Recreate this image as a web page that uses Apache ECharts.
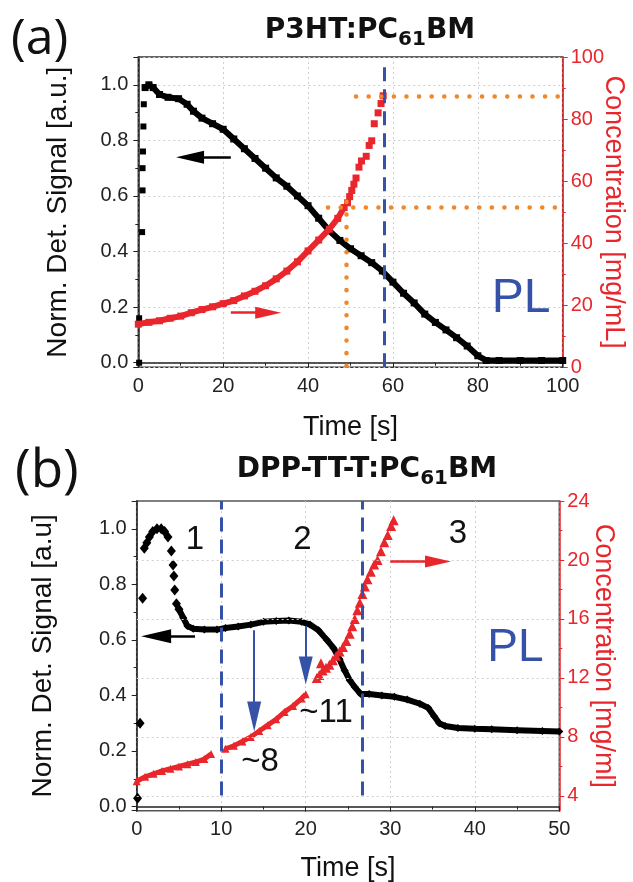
<!DOCTYPE html>
<html><head><meta charset="utf-8">
<script src="https://cdn.jsdelivr.net/npm/echarts@6/dist/echarts.min.js"></script>
<style>html,body{margin:0;padding:0;background:#fff}#c{width:633px;height:882px}</style>
</head><body><div id="c"></div>
<script>
// ===== Panel (a): P3HT:PC61BM =====
const aEarlyTime   = [0.2, 0.2, 0.9, 1.0, 1.0, 1.1, 1.2, 1.3];
const aEarlySignal = [0.0, 0.16, 0.47, 0.62, 0.70, 0.76, 0.85, 0.93];
const aTime   = [1.6, 2.5, 3.5, 5, 7, 9.5, 11.5, 13, 15, 17.5, 20, 22.5, 25, 27.5, 30, 32.5, 35, 37.5, 40, 42.5, 45, 47.5, 50, 52.5, 55, 57.5, 60, 62.5, 65, 67.5, 70, 72.5, 75, 77.5, 80, 82, 85, 90, 95, 100];
const aSignal = [0.99, 1.0, 0.99, 0.965, 0.955, 0.95, 0.93, 0.905, 0.88, 0.86, 0.84, 0.805, 0.77, 0.735, 0.70, 0.665, 0.635, 0.60, 0.565, 0.52, 0.475, 0.44, 0.41, 0.385, 0.36, 0.33, 0.29, 0.25, 0.215, 0.175, 0.145, 0.118, 0.09, 0.06, 0.025, 0.008, 0.008, 0.008, 0.008, 0.008];
const aConcTime = [0, 2.5, 5, 7.5, 10, 12.5, 15, 17.5, 20, 22.5, 25, 27.5, 30, 32.5, 35, 37.5, 40, 42.5, 45, 47, 48.5];
const aConc     = [13.9, 14.5, 15.0, 15.8, 16.5, 17.6, 18.6, 19.5, 20.5, 21.5, 23.0, 24.5, 26.3, 28.5, 31.0, 34.0, 37.5, 41.0, 44.5, 48.0, 51.5];
const aSteepTime = [49.3, 49.8, 50.3, 50.8, 51.3, 52.0, 52.6, 53.7, 54.4, 55.0, 55.6, 56.5, 57.2, 57.7];
const aSteepConc = [53, 55, 57, 59, 61, 64.5, 66.5, 68, 71.5, 73, 78.5, 82, 85, 87.5];

// ===== Panel (b): DPP-TT-T:PC61BM =====
const bEarlyTime   = [0.1, 0.4, 0.7, 0.9, 1.2, 1.5, 1.9, 2.4, 2.9, 3.3, 3.7, 4.1, 4.3, 4.4, 4.5, 4.7, 5.0];
const bEarlySignal = [0.03, 0.30, 0.75, 0.93, 0.95, 0.97, 0.99, 1.0, 1.0, 0.99, 0.97, 0.92, 0.87, 0.83, 0.78, 0.73, 0.71];
const bTime   = [5.0, 5.5, 6.0, 6.7, 8, 9.5, 10.5, 12, 13.5, 15, 16.5, 18, 19.5, 20.5, 21.5, 22.5, 23.3, 24, 24.6, 25.2, 25.8, 26.5, 27.5, 29, 30.5, 32, 33.5, 34.5, 35.2, 35.8, 36.5, 38, 40, 42, 45, 48, 50];
const bSignal = [0.71, 0.68, 0.65, 0.64, 0.637, 0.637, 0.643, 0.648, 0.655, 0.665, 0.668, 0.67, 0.665, 0.655, 0.635, 0.60, 0.57, 0.53, 0.49, 0.455, 0.43, 0.405, 0.405, 0.40, 0.395, 0.385, 0.37, 0.355, 0.325, 0.30, 0.29, 0.283, 0.28, 0.278, 0.275, 0.272, 0.27];
const bConc1Time = [0, 1, 2, 3, 4, 5, 6, 7, 8, 8.8];
const bConc1     = [5.0, 5.3, 5.5, 5.7, 5.85, 6.0, 6.15, 6.3, 6.5, 6.85];
const bConc2Time = [10.5, 11.5, 12.5, 13.5, 14.5, 15.5, 16.5, 17.5, 18.5, 19.5, 20.0];
const bConc2     = [7.2, 7.4, 7.7, 8.0, 8.4, 8.8, 9.2, 9.7, 10.1, 10.6, 10.9];
const bSteepTime = [21.3, 21.6, 21.8, 22.0, 22.4, 22.8, 23.2, 23.6, 24.0, 24.4, 24.8, 25.2, 25.5, 25.8, 26.1, 26.4, 26.7, 27.0, 27.3, 27.7, 28.1, 28.5, 28.9, 29.3, 29.7, 30.1, 30.4];
const bSteepConc = [12.0, 12.2, 13.0, 12.5, 12.7, 12.9, 13.2, 13.5, 13.8, 14.1, 14.5, 15.0, 15.5, 16.0, 16.6, 17.1, 17.7, 18.2, 18.7, 19.2, 19.7, 20.0, 20.6, 21.2, 21.7, 22.3, 22.7];
const bConcTicks      = [4, 8, 12, 16, 20, 24];
const bConcMinorTicks = [6, 10, 14, 18, 22];
const bConcGridLines  = [4, 8, 12, 16, 20];

const zip = (a, b) => a.map((v, i) => [v, b[i]]);
const RED = '#e8262b', BLUE = '#3552a8', ORANGE = '#f0872a', GRIDC = '#cfcfcf', DARK = '#222';
const FONT = 'Liberation Sans, Arial, sans-serif';

function arrow(from, to, color, width, head) {
  return [{coord: from, symbol: 'none', lineStyle: {color: color, width: width, type: 'solid'}},
          {coord: to, symbol: 'triangle', symbolSize: head, itemStyle: {color: color}}];
}
function vline(x, y0, y1, style) { return [{coord: [x, y0], lineStyle: style}, {coord: [x, y1]}]; }
function hline(y, x0, x1, style) { return [{coord: [x0, y], lineStyle: style}, {coord: [x1, y]}]; }
const blueDash = {color: BLUE, width: 3, type: [14, 8]};
const orangeDot = {color: ORANGE, width: 4.5, type: [0.1, 12.5], cap: 'round'};

function xAx(grid, max, interval, gap) {
  return {type: 'value', gridIndex: grid, min: 0, max: max, interval: interval,
    axisLine: {lineStyle: {color: DARK, width: 1.5}},
    axisTick: {length: 5, lineStyle: {color: DARK}},
    minorTick: {show: true, splitNumber: 2, length: 3, lineStyle: {color: DARK}},
    axisLabel: {fontSize: 20, color: DARK, margin: 9, fontFamily: FONT},
    splitLine: {show: true, lineStyle: {color: GRIDC, type: [2, 3]}},
    name: 'Time [s]', nameLocation: 'middle', nameGap: gap, nameMoveOverlap: false,
    nameTextStyle: {fontSize: 27, color: '#111', fontFamily: FONT}};
}
function leftAx(grid, min, max, name, split, gap) {
  return {type: 'value', gridIndex: grid, min: min, max: max, splitNumber: 5, position: 'left',
    axisLine: {show: true, lineStyle: {color: DARK, width: 1.5}},
    axisTick: {show: true, length: 5, lineStyle: {color: DARK}},
    minorTick: {show: true, splitNumber: 2, length: 3, lineStyle: {color: DARK}},
    axisLabel: {fontSize: 20, color: DARK, margin: 10, fontFamily: FONT, showMinLabel: false, showMaxLabel: false,
      formatter: v => (Math.abs(v * 5 - Math.round(v * 5)) < 1e-6 ? v.toFixed(1) : '')},
    splitLine: {show: split, lineStyle: {color: GRIDC, type: [2, 3]}},
    name: name, nameLocation: 'middle', nameGap: gap, nameMoveOverlap: false,
    nameTextStyle: {fontSize: 28, color: '#111', fontFamily: FONT}};
}
const rightName = (name, gap) => ({name: name, nameLocation: 'middle', nameGap: gap, nameRotate: -90, nameMoveOverlap: false,
    nameTextStyle: {fontSize: 27, color: RED, fontFamily: FONT}});
function textSeries(xi, yi, items) {
  return {type: 'scatter', xAxisIndex: xi, yAxisIndex: yi, symbolSize: 1, z: 20,
    itemStyle: {color: 'rgba(0,0,0,0)', opacity: 1}, silent: true,
    label: {show: true, position: 'inside', formatter: '{b}', fontFamily: FONT, opacity: 1},
    data: items};
}
const titleRich = {
  b: {fontSize: 28, fontWeight: 'bold', color: '#111', fontFamily: 'DejaVu Sans', lineHeight: 32},
  s: {fontSize: 20, fontWeight: 'bold', color: '#111', fontFamily: 'DejaVu Sans', padding: [18, 0, 0, 0], lineHeight: 32}
};
const panelLabel = (size) => ({fontSize: size, fontWeight: 'normal', color: '#111', fontFamily: 'Open Sans, Lato, sans-serif'});

const option = {
  animation: false,
  title: [
    {text: '(a)', left: 6, top: 10, textStyle: panelLabel(50)},
    {text: '{b|P3HT:PC}{s|61}{b|BM}', left: 365, top: 10, textAlign: 'center', textStyle: {rich: titleRich}},
    {text: '(b)', left: 10, top: 440, textStyle: panelLabel(53)},
    {text: '{b|DPP-TT-T:PC}{s|61}{b|BM}', left: 362, top: 449, textAlign: 'center', textStyle: {rich: titleRich}}
  ],
  grid: [
    {left: 138.3, top: 57, width: 424.4, height: 310.3, show: true, borderColor: '#333', borderWidth: 1.5,
     backgroundColor: '#fff', containLabel: false, outerBoundsMode: 'none'},
    {left: 136.7, top: 501, width: 422.6, height: 309.7, show: true, borderColor: '#555', borderWidth: 1.5,
     backgroundColor: '#fff', containLabel: false, outerBoundsMode: 'none'}
  ],
  xAxis: [xAx(0, 100, 20, 47), xAx(1, 50, 10, 44)],
  yAxis: [
    leftAx(0, -0.0165, 1.1, 'Norm. Det. Signal [a.u.]', true, 66),
    Object.assign({type: 'value', gridIndex: 0, min: 0, max: 100, interval: 20, position: 'right',
      axisLine: {show: true, lineStyle: {color: RED, width: 1.5}},
      axisTick: {show: true, length: 5, lineStyle: {color: RED}},
      minorTick: {show: true, splitNumber: 2, length: 3, lineStyle: {color: RED}},
      axisLabel: {fontSize: 20, color: RED, margin: 8, fontFamily: FONT},
      splitLine: {show: false}}, rightName('Concentration [mg/mL]', 37)),
    leftAx(1, -0.015, 1.1, 'Norm. Det. Signal [a.u]', false, 79),
    Object.assign({type: 'value', gridIndex: 1, min: 3, max: 24, position: 'right',
      axisLine: {show: true, lineStyle: {color: RED, width: 1.5}},
      axisTick: {show: true, length: 5, lineStyle: {color: RED}, customValues: bConcTicks},
      minorTick: {show: false},
      axisLabel: {fontSize: 20, color: RED, margin: 8, fontFamily: FONT, customValues: bConcTicks},
      splitLine: {show: false}}, rightName('Concentration [mg/ml]', 31)),
    {type: 'value', gridIndex: 1, min: 3, max: 24, position: 'right',
      axisLine: {show: false},
      axisTick: {show: true, length: 3, lineStyle: {color: RED}, customValues: bConcMinorTicks},
      axisLabel: {show: false}, splitLine: {show: false}}
  ],
  series: [
    // ---- panel (a) ----
    {type: 'line', xAxisIndex: 0, yAxisIndex: 0, data: zip(aTime, aSignal), z: 3,
     lineStyle: {color: '#000', width: 6}, symbol: 'rect', symbolSize: 7, showAllSymbol: true, itemStyle: {color: '#000'}},
    {type: 'scatter', xAxisIndex: 0, yAxisIndex: 0, data: zip(aEarlyTime, aEarlySignal), z: 3,
     symbol: 'rect', symbolSize: 6, itemStyle: {color: '#000', opacity: 1}},
    {type: 'line', xAxisIndex: 0, yAxisIndex: 1, data: zip(aConcTime, aConc), z: 4,
     lineStyle: {color: RED, width: 6}, symbol: 'rect', symbolSize: 7, showAllSymbol: true, itemStyle: {color: RED}},
    {type: 'scatter', xAxisIndex: 0, yAxisIndex: 1, data: zip(aSteepTime, aSteepConc), z: 4,
     symbol: 'rect', symbolSize: 7, itemStyle: {color: RED, opacity: 1}},
    {type: 'line', xAxisIndex: 0, yAxisIndex: 0, data: [], z: 10, silent: true,
     markLine: {silent: true, symbol: ['none', 'none'], label: {show: false}, animation: false,
       data: [
         vline(58, -0.0165, 1.07, blueDash),
         arrow([21.8, 0.739], [12.2, 0.739], '#000', 2.5, [13, 28])
       ]}},
    {type: 'line', xAxisIndex: 0, yAxisIndex: 1, data: [], z: 10, silent: true,
     markLine: {silent: true, symbol: ['none', 'none'], label: {show: false}, animation: false,
       data: [
         vline(49, 0.5, 56, orangeDot),
         hline(51.5, 44.7, 100, orangeDot),
         hline(87.5, 51.3, 100, orangeDot),
         arrow([21.8, 17.6], [30.6, 17.6], RED, 2.5, [12, 26])
       ]}},
    textSeries(0, 0, [{name: 'PL', value: [90.2, 0.229], label: {fontSize: 48, color: BLUE}}]),
    // ---- panel (b) ----
    {type: 'line', xAxisIndex: 1, yAxisIndex: 3, data: [], z: 1, silent: true,
     markLine: {silent: true, symbol: ['none', 'none'], label: {show: false}, animation: false,
       lineStyle: {color: GRIDC, width: 1, type: [2, 3]},
       data: bConcGridLines.map(v => ({yAxis: v}))}},
    {type: 'line', xAxisIndex: 1, yAxisIndex: 2, data: zip(bTime, bSignal), z: 3,
     lineStyle: {color: '#000', width: 6}, symbol: 'diamond', symbolSize: 8, showAllSymbol: true, itemStyle: {color: '#000'}},
    {type: 'scatter', xAxisIndex: 1, yAxisIndex: 2, data: zip(bEarlyTime, bEarlySignal), z: 3,
     symbol: 'diamond', symbolSize: [9, 11], itemStyle: {color: '#000', opacity: 1}},
    {type: 'line', xAxisIndex: 1, yAxisIndex: 3, data: zip(bConc1Time, bConc1), z: 4,
     lineStyle: {color: RED, width: 5}, symbol: 'triangle', symbolSize: 8, showAllSymbol: true, itemStyle: {color: RED}},
    {type: 'line', xAxisIndex: 1, yAxisIndex: 3, data: zip(bConc2Time, bConc2), z: 4,
     lineStyle: {color: RED, width: 5}, symbol: 'triangle', symbolSize: 8, showAllSymbol: true, itemStyle: {color: RED}},
    {type: 'scatter', xAxisIndex: 1, yAxisIndex: 3, data: zip(bSteepTime, bSteepConc), z: 4,
     symbol: 'triangle', symbolSize: 10, itemStyle: {color: RED, opacity: 1}},
    {type: 'line', xAxisIndex: 1, yAxisIndex: 2, data: [], z: 10, silent: true,
     markLine: {silent: true, symbol: ['none', 'none'], label: {show: false}, animation: false,
       data: [
         vline(10, 0.04, 1.1, blueDash),
         vline(26.7, 0.04, 1.1, blueDash),
         arrow([6.9, 0.613], [2.3, 0.613], '#000', 2.5, [14, 30]),
         arrow([13.9, 0.635], [13.9, 0.324], BLUE, 2, [14, 30]),
         arrow([20.0, 0.65], [20.0, 0.49], BLUE, 2, [14, 28])
       ]}},
    {type: 'line', xAxisIndex: 1, yAxisIndex: 3, data: [], z: 10, silent: true,
     markLine: {silent: true, symbol: ['none', 'none'], label: {show: false}, animation: false,
       data: [ arrow([30.0, 19.9], [35.65, 19.9], RED, 2.5, [12, 26]) ]}},
    textSeries(1, 2, [
      {name: 'PL', value: [44.8, 0.57], label: {fontSize: 46, color: BLUE}},
      {name: '1', value: [6.9, 0.96], label: {fontSize: 33, color: '#111'}},
      {name: '2', value: [19.6, 0.96], label: {fontSize: 33, color: '#111'}},
      {name: '3', value: [38, 0.98], label: {fontSize: 33, color: '#111'}},
      {name: '~8', value: [14.6, 0.162], label: {fontSize: 33, color: '#111'}},
      {name: '~11', value: [22.4, 0.338], label: {fontSize: 33, color: '#111'}}
    ])
  ]
};
const chart = echarts.init(document.getElementById('c'), null, {renderer: 'canvas'});
chart.setOption(option);
</script>
</body></html>
